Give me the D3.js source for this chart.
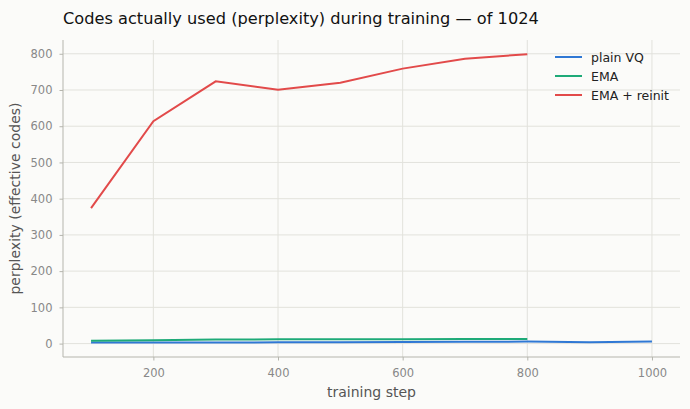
<!DOCTYPE html>
<html lang="en">
<head>
    <meta charset="UTF-8">
    <title>Codes used during training</title>
    <style>
        body {
            margin: 0;
            background-color: #fbfbf9;
        }
        svg {
            display: block;
            font-family: "DejaVu Sans", sans-serif;
        }
    </style>
    <script src="https://d3js.org/d3.v7.min.js"></script>
</head>
<body>
    <svg width="690" height="409"></svg>
    <script>
        // data
        const stepsVQ = [100, 200, 300, 400, 500, 600, 700, 800, 900, 1000];
        const plainVQ = [3, 3, 3, 3.5, 4, 4.5, 5, 5.5, 4, 5.5];
        const stepsEMA = [100, 200, 300, 400, 500, 600, 700, 800];
        const ema = [8, 9, 11, 12, 12, 12, 12.5, 13];
        const emaReinit = [374, 614, 724, 701, 720, 759, 786, 799];
        const yTicks = [0, 100, 200, 300, 400, 500, 600, 700, 800];
        const xTicks = [200, 400, 600, 800, 1000];

        const series = [
            { name: "plain VQ", steps: stepsVQ, values: plainVQ, color: "#2f78d4" },
            { name: "EMA", steps: stepsEMA, values: ema, color: "#1eaa78" },
            { name: "EMA + reinit", steps: stepsEMA, values: emaReinit, color: "#e24a4a" }
        ];

        const svg = d3.select("svg");
        const plotLeft = 63, plotRight = 680, plotTop = 40, plotBottom = 357;

        const x = d3.scaleLinear().domain([55, 1045]).range([plotLeft, plotRight]);
        const y = d3.scaleLinear().domain([-37, 838]).range([plotBottom, plotTop]);

        // grid
        svg.append("g").selectAll("line").data(xTicks).join("line")
            .attr("x1", d => x(d)).attr("x2", d => x(d))
            .attr("y1", plotTop).attr("y2", plotBottom)
            .attr("stroke", "#e2e2dc").attr("stroke-width", 1);
        svg.append("g").selectAll("line").data(yTicks).join("line")
            .attr("x1", plotLeft).attr("x2", plotRight)
            .attr("y1", d => y(d)).attr("y2", d => y(d))
            .attr("stroke", "#e2e2dc").attr("stroke-width", 1);

        // axes
        const xAxis = svg.append("g")
            .attr("transform", `translate(0,${plotBottom})`)
            .call(d3.axisBottom(x).tickValues(xTicks).tickSize(3.5).tickPadding(8).tickFormat(d3.format("d")));
        const yAxis = svg.append("g")
            .attr("transform", `translate(${plotLeft},0)`)
            .call(d3.axisLeft(y).tickValues(yTicks).tickSize(3.5).tickPadding(7).tickFormat(d3.format("d")));
        [xAxis, yAxis].forEach(a => {
            a.select(".domain").attr("stroke", "#b5b5ad");
            a.selectAll(".tick line").attr("stroke", "#b5b5ad");
            a.selectAll(".tick text").attr("fill", "#888").style("font-size", "11.5px")
                .style("font-family", "DejaVu Sans");
        });
        // spines without end ticks
        xAxis.select(".domain").attr("d", `M${plotLeft},0H${plotRight}`);
        yAxis.select(".domain").attr("d", `M0,${plotTop}V${plotBottom}`);

        // lines
        const line = d3.line().x(d => x(d[0])).y(d => y(d[1]));
        series.forEach(s => {
            svg.append("path")
                .datum(s.steps.map((st, i) => [st, s.values[i]]))
                .attr("d", line)
                .attr("fill", "none")
                .attr("stroke", s.color)
                .attr("stroke-width", 2);
        });

        // title and labels
        svg.append("text")
            .attr("x", plotLeft).attr("y", 24)
            .attr("font-size", 16.2).attr("fill", "#111")
            .text("Codes actually used (perplexity) during training — of 1024");
        svg.append("text")
            .attr("x", (plotLeft + plotRight) / 2).attr("y", 397)
            .attr("text-anchor", "middle")
            .attr("font-size", 14).attr("fill", "#555")
            .text("training step");
        svg.append("text")
            .attr("transform", `translate(20,${(plotTop + plotBottom) / 2}) rotate(-90)`)
            .attr("text-anchor", "middle")
            .attr("font-size", 14).attr("fill", "#555")
            .text("perplexity (effective codes)");

        // legend
        const legend = svg.append("g").attr("transform", "translate(555,57)");
        series.forEach((s, i) => {
            const g = legend.append("g").attr("transform", `translate(0,${i * 19})`);
            g.append("line").attr("x1", 0).attr("x2", 27)
                .attr("stroke", s.color).attr("stroke-width", 2);
            g.append("text").attr("x", 36).attr("y", 4.5)
                .attr("font-size", 12.5).attr("fill", "#222")
                .text(s.name);
        });
    </script>
</body>
</html>
